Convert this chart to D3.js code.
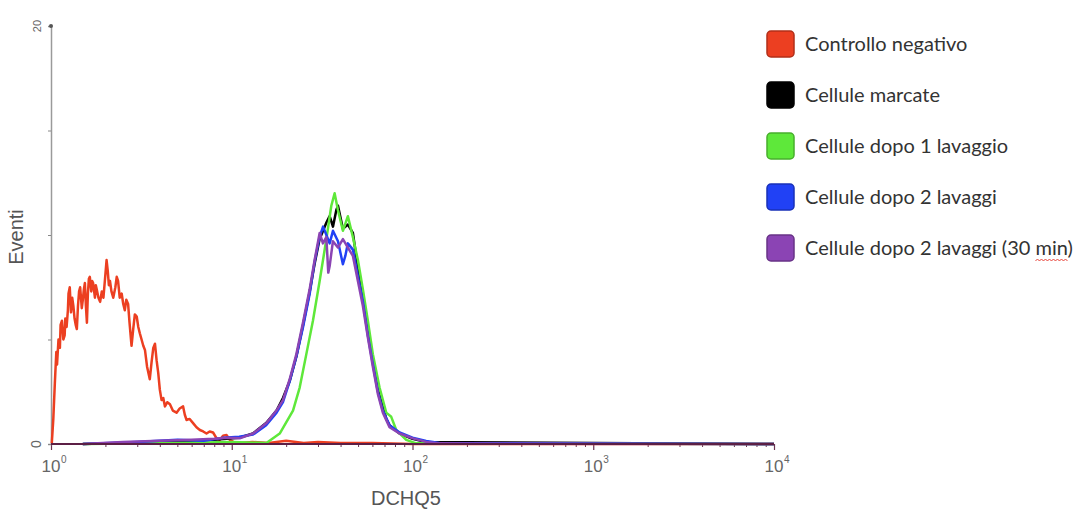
<!DOCTYPE html>
<html>
<head>
<meta charset="utf-8">
<script src="https://cdn.jsdelivr.net/npm/d3@7"></script>
<style>
  body { margin: 0; background: #fff; }
  svg { display: block; }
</style>
</head>
<body>
<svg id="chart"></svg>
<script>
// flow cytometry histogram, DCHQ5 channel
var controlloNegativo = [[1.01,0.03],[1.03,1.2],[1.05,2.9],[1.07,4.4],[1.08,3.8],[1.10,5.0],[1.12,4.6],[1.13,5.7],[1.15,5.9],[1.17,5.0],[1.19,5.2],[1.20,6.0],[1.22,5.6],[1.24,6.4],[1.25,7.2],[1.27,7.5],[1.29,6.3],[1.31,7.0],[1.33,6.6],[1.35,6.0],[1.37,5.7],[1.39,5.5],[1.41,6.6],[1.43,7.3],[1.45,7.5],[1.48,6.5],[1.50,6.9],[1.52,7.4],[1.54,7.7],[1.56,6.6],[1.58,5.8],[1.60,7.2],[1.62,7.9],[1.64,8.0],[1.67,7.3],[1.69,7.8],[1.71,7.7],[1.75,7.0],[1.77,7.6],[1.79,7.4],[1.83,7.0],[1.87,6.8],[1.91,7.3],[1.95,7.0],[1.99,7.9],[2.03,8.8],[2.06,8.3],[2.09,7.6],[2.12,7.8],[2.16,7.3],[2.21,7.0],[2.27,7.5],[2.31,8.0],[2.35,7.8],[2.40,7.0],[2.46,7.2],[2.51,6.7],[2.56,6.4],[2.61,6.9],[2.67,6.7],[2.72,5.8],[2.79,4.7],[2.85,5.5],[2.91,6.2],[2.98,6.1],[3.04,5.6],[3.10,5.3],[3.17,5.0],[3.24,4.7],[3.31,4.5],[3.40,3.7],[3.52,3.1],[3.60,3.9],[3.68,4.6],[3.76,4.8],[3.84,4.0],[3.92,3.4],[4.00,2.6],[4.09,2.1],[4.18,2.2],[4.27,1.8],[4.40,2.0],[4.55,1.9],[4.72,1.6],[4.95,1.5],[5.15,1.7],[5.38,1.8],[5.50,1.4],[5.62,1.15],[5.85,1.2],[6.11,1.0],[6.38,0.8],[6.66,0.67],[6.95,0.6],[7.25,0.5],[7.55,0.6],[7.88,0.55],[8.2,0.3],[8.59,0.2],[8.95,0.4],[9.35,0.43],[9.75,0.2],[10.2,0.1],[11.1,0.05],[13,0.1],[16,0.05],[20,0.15],[25,0.05],[30,0.1],[40,0.05],[60,0.05],[100,0],[10000,0]]
var celluleMarcate = [[1.5,0],[4,0.1],[8,0.2],[11,0.3],[13.1,0.5],[15.5,1.0],[17.7,1.6],[19.2,2.2],[20.9,3.0],[22.8,4.2],[24.8,5.7],[27,7.3],[28.7,8.6],[30.6,9.8],[32,10.2],[33.4,10.6],[34.8,10.9],[36.3,10.4],[37.9,11.2],[38.7,11.4],[41.2,10.3],[43.9,10.5],[46.8,10.1],[49.9,8.4],[53.2,7.0],[56.6,5.4],[60.4,3.9],[64.3,2.6],[68.5,1.8],[71.6,1.2],[74.6,0.9],[84.8,0.5],[100,0.25],[119,0.1],[10000,0]]
var dopo1Lavaggio = [[1.5,0],[5,0.05],[10,0.1],[15.55,0.05],[18.42,0.5],[21.82,1.6],[23.76,2.7],[25.86,4.3],[28.13,5.9],[30.64,7.8],[33.37,9.8],[35.55,11.4],[37.08,12.0],[38.67,11.2],[41.21,10.2],[43.91,10.9],[46.8,9.9],[49.88,8.8],[53.15,7.4],[56.62,5.9],[60.35,4.3],[65.72,2.7],[71.56,1.5],[76.27,1.3],[81.29,0.67],[92.32,0.2],[104.8,0.03],[10000,0]]
var dopo2Lavaggi = [[1.5,0],[3,0.1],[5,0.2],[7,0.15],[9,0.3],[11,0.35],[13.1,0.45],[15.5,0.9],[17.7,1.5],[19.2,2.0],[20.9,3.0],[22.8,4.2],[24.8,5.6],[27,7.2],[28.7,8.7],[30.6,9.9],[32,10.4],[33.4,10.0],[34.8,9.6],[36.3,10.2],[38.7,9.7],[41.2,8.6],[42.5,9.0],[43.9,9.6],[46.8,9.3],[49.9,8.0],[53.2,6.8],[56.6,5.2],[60.4,3.8],[64.3,2.5],[68.5,1.6],[74.6,0.9],[84.8,0.55],[100,0.3],[119,0.15],[141,0.05],[10000,0]]
var dopo2Lavaggi30 = [[1.5,0],[2.5,0.1],[4,0.15],[6,0.2],[8,0.25],[9.5,0.3],[11.07,0.27],[13.12,0.5],[15.55,1.0],[17.66,1.6],[19.2,2.1],[20.92,3.1],[22.78,4.3],[24.77,5.8],[26.97,7.4],[28.74,8.8],[30.64,10.1],[31.95,9.6],[33.37,9.9],[34.2,8.2],[34.79,8.5],[36.28,9.7],[38.67,9.4],[41.21,9.8],[43.91,9.4],[46.8,9.0],[49.88,7.8],[53.15,6.6],[56.62,5.1],[60.35,3.7],[64.31,2.4],[68.54,1.5],[74.63,0.8],[84.78,0.5],[100.4,0.27],[119,0.1],[141,0.03],[200,0.02],[10000,0]]

var seriesNames = ["Controllo negativo", "Cellule marcate", "Cellule dopo 1 lavaggio", "Cellule dopo 2 lavaggi", "Cellule dopo 2 lavaggi (30 min)"]
var seriesData = [controlloNegativo, celluleMarcate, dopo1Lavaggio, dopo2Lavaggi, dopo2Lavaggi30]
var seriesColors = ["#ec3f21", "#000000", "#5ee83a", "#2141f5", "#8b44b4"]
var decades = [1, 10, 100, 1000, 10000]
var yTicks = [0, 5, 10, 15, 20]
var yLabels = [0, 20]

var dimensions = {
    width: 1077,
    height: 511,
    margin: { top: 26, bottom: 67, left: 51, right: 303 }
}

var svg = d3.select('#chart')
    .attr("width", dimensions.width)
    .attr("height", dimensions.height)
    .style("font-family", "Liberation Sans, Arial, sans-serif")

var xScale = d3.scaleLog()
    .domain([1, 10000])
    .range([dimensions.margin.left, dimensions.width - dimensions.margin.right])

var yScale = d3.scaleLinear()
    .domain([0, 20])
    .range([dimensions.height - dimensions.margin.bottom, dimensions.margin.top])

var xAccessor = d => d[0]
var yAccessor = d => d[1]

// minor ticks 2..9 in every decade
var minorTicks = []
decades.slice(0, 4).forEach(function (dec) {
    for (var m = 2; m <= 9; m++) minorTicks.push(dec * m)
})

var xAxis = svg.append('g')
    .attr("transform", `translate(0,${yScale(0)})`)
    .call(d3.axisBottom(xScale).tickValues(minorTicks).tickSize(3).tickFormat(""))
xAxis.select(".domain").remove()
xAxis.selectAll("line").attr("stroke", "#6a3350").attr("stroke-width", 1)

var xMajor = svg.append('g')
    .attr("transform", `translate(0,${yScale(0)})`)
    .call(d3.axisBottom(xScale).tickValues(decades).tickSize(6).tickFormat(""))
xMajor.select(".domain").remove()
xMajor.selectAll("line").attr("stroke", "#6a3350").attr("stroke-width", 1.2)

var yAxis = svg.append('g')
    .attr("transform", `translate(${dimensions.margin.left},0)`)
    .call(d3.axisLeft(yScale).tickValues(yTicks).tickSize(3).tickFormat(""))
yAxis.select(".domain").attr("stroke", "#9a9a9a").attr("stroke-width", 1.5)
yAxis.selectAll("line").attr("stroke", "#888")

svg.append("circle")
    .attr("cx", dimensions.margin.left)
    .attr("cy", yScale(20))
    .attr("r", 2)
    .attr("fill", "#555")

var line = d3.line()
    .x(d => xScale(xAccessor(d)))
    .y(d => yScale(yAccessor(d)))

svg.append("g")
    .selectAll("path")
    .data(seriesData)
    .enter()
    .append("path")
    .attr("d", d => line(d))
    .attr("fill", "none")
    .attr("stroke", (d, i) => seriesColors[i])
    .attr("stroke-width", 2.5)
    .attr("stroke-linejoin", "round")

// baseline drawn over the curves
svg.append("line")
    .attr("x1", xScale(1)).attr("x2", xScale(10000))
    .attr("y1", yScale(0)).attr("y2", yScale(0))
    .attr("stroke", "#5c1f45")
    .attr("stroke-width", 2)

// decade labels 10^k : "10" centred on the tick, exponent to the right
var decLabels = svg.append("g")
    .selectAll("g")
    .data(decades)
    .enter()
    .append("g")
    .attr("fill", "#666")
decLabels.append("text")
    .attr("x", d => xScale(d))
    .attr("y", 472)
    .attr("text-anchor", "middle")
    .style("font-size", "17px")
    .text("10")
decLabels.append("text")
    .attr("x", d => xScale(d) + 10)
    .attr("y", 463)
    .style("font-size", "10px")
    .text(d => Math.round(Math.log10(d)))

svg.append("g")
    .selectAll("text")
    .data(yLabels)
    .enter()
    .append("text")
    .attr("transform", d => `translate(${dimensions.margin.left - 10},${yScale(d)}) rotate(-90)`)
    .attr("text-anchor", "middle")
    .attr("fill", "#666")
    .style("font-size", d => d == 0 ? "14px" : "11px")
    .text(d => d)

svg.append("text")
    .attr("x", 406)
    .attr("y", 505)
    .attr("text-anchor", "middle")
    .attr("fill", "#555")
    .style("font-size", "20px")
    .text("DCHQ5")

svg.append("text")
    .attr("transform", "translate(23,237) rotate(-90)")
    .attr("text-anchor", "middle")
    .attr("fill", "#555")
    .style("font-size", "20px")
    .text("Eventi")

// legend
var legend = svg.append("g")
    .selectAll("g")
    .data(seriesNames)
    .enter()
    .append("g")
    .attr("transform", (d, i) => `translate(767,${44 + i * 51})`)

legend.append("rect")
    .attr("x", 0)
    .attr("y", -13)
    .attr("width", 27)
    .attr("height", 26)
    .attr("rx", 4)
    .attr("fill", (d, i) => seriesColors[i])
    .attr("stroke", (d, i) => d3.color(seriesColors[i]).darker(0.8))
    .attr("stroke-width", 1.5)

var legendText = legend.append("text")
    .attr("x", 38)
    .attr("y", 0)
    .attr("dy", "0.35em")
    .attr("fill", "#333")
    .style("font-family", "Lato, sans-serif")
    .style("font-size", "20px")
    .text(d => d)

// spell-check squiggle under "min"
legendText.filter(d => d.indexOf("min") >= 0).each(function (d) {
    var node = this
    var start = d.indexOf("min")
    var x0 = 38 + node.getSubStringLength(0, start)
    var w = node.getSubStringLength(start, 3)
    var pts = []
    for (var k = 0; k <= Math.round(w / 2); k++) pts.push([x0 + k * 2, 12 + (k % 2 ? -1 : 1)])
    d3.select(node.parentNode).append("path")
        .attr("d", d3.line()(pts))
        .attr("fill", "none")
        .attr("stroke", "#e8433a")
        .attr("stroke-width", 1)
})
</script>
</body>
</html>
